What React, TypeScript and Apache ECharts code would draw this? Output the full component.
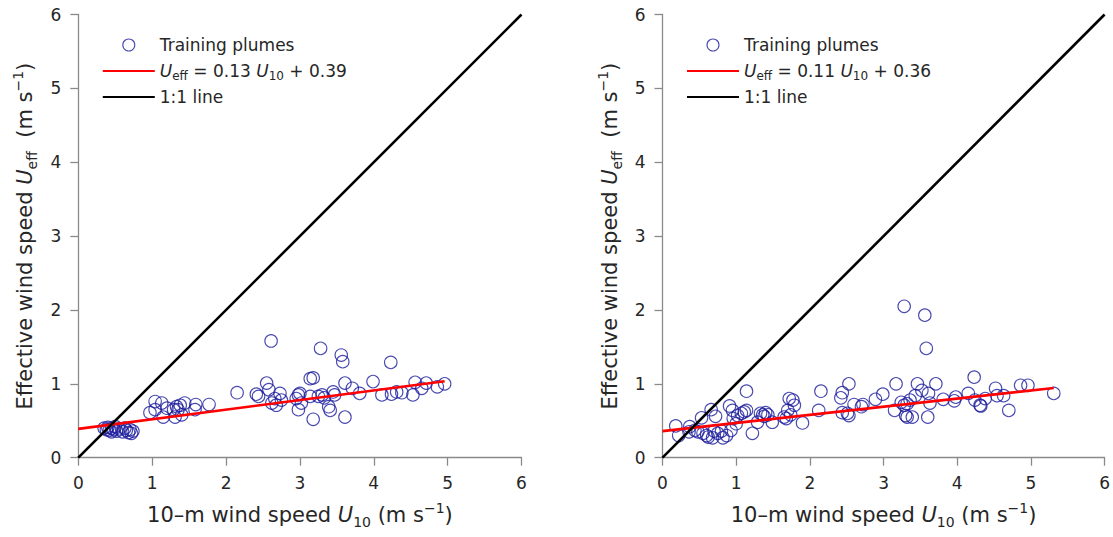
import React, { useEffect, useRef } from "react";
import * as echarts from "echarts";

// ---- Data ----
const leftU10 = [
  0.35, 0.38, 0.40, 0.42, 0.45, 0.48, 0.50, 0.52, 0.55, 0.60, 0.63, 0.65, 0.68, 0.70, 0.72, 0.74, 0.45,
  1.04, 1.13, 0.97, 1.04, 1.15, 1.20, 1.29, 1.31, 1.33, 1.35, 1.38, 1.40, 1.44, 1.58, 1.59, 1.77,
  2.15, 2.41, 2.44, 2.55, 2.58, 2.61, 2.62, 2.66, 2.68, 2.73, 2.75,
  2.95, 2.98, 2.98, 3.00, 3.02, 3.14, 3.14, 3.18, 3.18, 3.25, 3.28, 3.30, 3.33, 3.39, 3.41, 3.45, 3.47,
  3.56, 3.58, 3.61, 3.61, 3.71, 3.81, 3.99, 4.11, 4.23, 4.24, 4.31, 4.38, 4.53, 4.56, 4.65, 4.71, 4.86, 4.96,
];
const leftUeff = [
  0.40, 0.38, 0.41, 0.37, 0.40, 0.38, 0.42, 0.36, 0.39, 0.35, 0.40, 0.37, 0.34, 0.38, 0.33, 0.36, 0.35,
  0.76, 0.74, 0.61, 0.65, 0.55, 0.67, 0.65, 0.55, 0.69, 0.65, 0.71, 0.58, 0.74, 0.65, 0.72, 0.72,
  0.88, 0.86, 0.83, 1.01, 0.92, 1.58, 0.74, 0.80, 0.71, 0.87, 0.78,
  0.80, 0.85, 0.65, 0.87, 0.74, 1.07, 0.83, 0.52, 1.08, 0.83, 1.48, 0.85, 0.81, 0.69, 0.64, 0.89, 0.85,
  1.39, 1.30, 0.55, 1.01, 0.94, 0.87, 1.03, 0.85, 1.29, 0.86, 0.89, 0.88, 0.85, 1.02, 0.94, 1.01, 0.96, 1.00,
];

const rightU10 = [
  0.18, 0.22, 0.37, 0.36, 0.44, 0.48, 0.53, 0.55, 0.60, 0.62, 0.68, 0.66, 0.72, 0.70, 0.75, 0.80, 0.82, 0.87,
  0.91, 0.93, 0.95, 0.96, 1.00, 1.02, 1.07, 1.11, 1.14, 1.14, 1.22, 1.29, 1.33, 1.36, 1.38, 1.40, 1.43, 1.49,
  1.65, 1.68, 1.70, 1.72, 1.77, 1.79, 1.74, 1.90, 2.12, 2.15, 2.42, 2.44, 2.44, 2.53, 2.51, 2.53, 2.60, 2.70,
  2.72, 2.89, 2.99, 3.15, 3.17, 3.28, 3.24, 3.28, 3.32, 3.30, 3.32, 3.39, 3.36, 3.43, 3.46, 3.52, 3.56, 3.58,
  3.61, 3.63, 3.60, 3.71, 3.81, 3.96, 3.98, 4.15, 4.23, 4.24, 4.31, 4.32, 4.38, 4.52, 4.54, 4.63, 4.70, 4.86,
  4.96, 5.31,
];
const rightUeff = [
  0.43, 0.30, 0.42, 0.35, 0.37, 0.35, 0.54, 0.33, 0.30, 0.28, 0.27, 0.65, 0.56, 0.36, 0.33, 0.36, 0.27, 0.30,
  0.70, 0.37, 0.64, 0.53, 0.46, 0.57, 0.60, 0.62, 0.90, 0.64, 0.33, 0.48, 0.60, 0.58, 0.56, 0.61, 0.58, 0.48,
  0.55, 0.53, 0.64, 0.80, 0.78, 0.71, 0.58, 0.47, 0.64, 0.90, 0.81, 0.88, 0.61, 1.00, 0.60, 0.57, 0.72, 0.69,
  0.72, 0.79, 0.86, 0.64, 1.00, 2.05, 0.75, 0.71, 0.73, 0.57, 0.55, 0.55, 0.78, 0.84, 1.00, 0.91, 1.93, 1.48,
  0.87, 0.74, 0.55, 1.00, 0.79, 0.77, 0.82, 0.87, 1.09, 0.78, 0.71, 0.70, 0.80, 0.94, 0.84, 0.84, 0.64, 0.98,
  0.98, 0.87,
];

const fitSlopes = [0.13, 0.11];
const fitIntercepts = [0.39, 0.36];
const axisMin = 0;
const axisMax = 6;
const axisStep = 1;

const FONT = "DejaVu Sans";
const NAVY = "#1c1c9c";
const AXIS_GREY = "#8a8a8a";
const TEXT = "#262626";

const titleRich = {
  i: { fontFamily: FONT, fontSize: 21, fontStyle: "italic", lineHeight: 28, color: TEXT },
  sub: { fontFamily: FONT, fontSize: 14, lineHeight: 15, verticalAlign: "bottom", color: TEXT },
  sup: { fontFamily: FONT, fontSize: 14, lineHeight: 15, verticalAlign: "top", color: TEXT },
};
const legendRich = {
  i: { fontFamily: FONT, fontSize: 17, fontStyle: "italic", lineHeight: 22, color: TEXT },
  sub: { fontFamily: FONT, fontSize: 12, lineHeight: 12, verticalAlign: "bottom", color: TEXT },
};

export default function App() {
  const ref = useRef<HTMLDivElement>(null);
  useEffect(() => {
    const chart = echarts.init(ref.current as HTMLDivElement, null, { renderer: "svg" });
    const panels = [
      { x: leftU10, y: leftUeff, left: 78.3 },
      { x: rightU10, y: rightUeff, left: 662.5 },
    ];
    const fitNames = panels.map((_, k) => `fit${k}`);
    const fitLabel = (k: number) =>
      `{i|U}{sub|eff} = ${fitSlopes[k].toFixed(2)} {i|U}{sub|10} + ${fitIntercepts[k].toFixed(2)}`;

    const grids = panels.map((p) => ({ left: p.left, top: 14.5, width: 443.2, height: 443.2 }));

    const axisCommon = {
      type: "value" as const,
      min: axisMin,
      max: axisMax,
      interval: axisStep,
      axisLine: { show: true, onZero: false, lineStyle: { color: AXIS_GREY, width: 1.3 } },
      axisTick: { show: true, inside: false, length: 8, lineStyle: { color: AXIS_GREY, width: 1.3 } },
      axisLabel: { margin: 17, fontSize: 17, fontFamily: FONT, color: TEXT },
      splitLine: { show: false },
      nameLocation: "middle" as const,
      nameTextStyle: { fontFamily: FONT, fontSize: 21, color: TEXT, lineHeight: 28, rich: titleRich },
    };

    const xAxes = panels.map((_, k) => ({
      ...axisCommon,
      gridIndex: k,
      position: "bottom",
      name: "10–m wind speed {i|U}{sub|10} (m s{sup|−1})",
      nameGap: 43,
    }));
    const yAxes = panels.map((_, k) => ({
      ...axisCommon,
      gridIndex: k,
      position: "left",
      name: "Effective wind speed {i|U}{sub|eff}  (m s{sup|−1})",
      nameGap: 39,
    }));

    const series: any[] = [];
    panels.forEach((p, k) => {
      const xmax = Math.max(...p.x);
      series.push({
        name: "Training plumes",
        type: "scatter",
        xAxisIndex: k,
        yAxisIndex: k,
        symbol: "circle",
        symbolSize: 12.5,
        itemStyle: { color: "transparent", borderColor: NAVY, borderWidth: 1.1 },
        data: p.x.map((v, i) => [v, p.y[i]]),
        z: 2,
      });
      series.push({
        name: fitNames[k],
        type: "line",
        xAxisIndex: k,
        yAxisIndex: k,
        symbol: "none",
        showSymbol: false,
        itemStyle: { color: "#ff0000" },
        lineStyle: { color: "#ff0000", width: 2.6 },
        data: [
          [axisMin, fitIntercepts[k] + fitSlopes[k] * axisMin],
          [xmax, fitIntercepts[k] + fitSlopes[k] * xmax],
        ],
        z: 3,
      });
      series.push({
        name: "1:1 line",
        type: "line",
        xAxisIndex: k,
        yAxisIndex: k,
        symbol: "none",
        showSymbol: false,
        itemStyle: { color: "#000000" },
        lineStyle: { color: "#000000", width: 2.6 },
        data: [
          [axisMin, axisMin],
          [axisMax, axisMax],
        ],
        z: 3,
      });
    });

    const hiddenSymbol = { opacity: 0, borderWidth: 0 };
    const legends = panels.map((p, k) => ({
      orient: "vertical",
      left: p.left + 18.5,
      top: 29,
      itemWidth: 52,
      itemHeight: 12,
      itemGap: 4,
      selectedMode: false,
      data: [
        { name: "Training plumes" },
        { name: fitNames[k], itemStyle: hiddenSymbol },
        { name: "1:1 line", itemStyle: hiddenSymbol },
      ],
      itemStyle: { borderWidth: 1.1 },
      formatter: (name: string) => (name === fitNames[k] ? fitLabel(k) : name),
      textStyle: { fontFamily: FONT, fontSize: 17, color: TEXT, lineHeight: 22, rich: legendRich },
    }));

    chart.setOption({
      animation: false,
      backgroundColor: "#ffffff",
      grid: grids,
      xAxis: xAxes,
      yAxis: yAxes,
      legend: legends,
      series,
    });
    return () => chart.dispose();
  }, []);
  return (
    <div
      ref={ref}
      style={{ position: "fixed", left: 0, top: 0, width: 1113, height: 537 }}
    />
  );
}
